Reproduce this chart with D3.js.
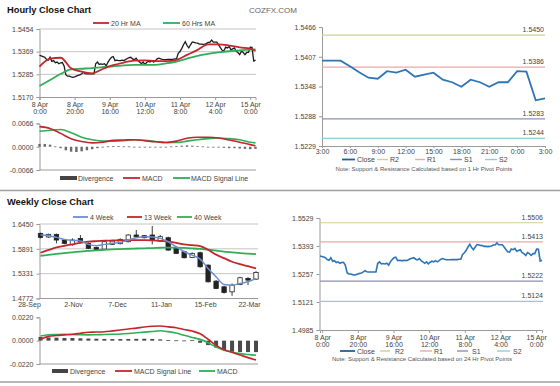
<!DOCTYPE html>
<html><head><meta charset="utf-8">
<script src="https://cdn.jsdelivr.net/npm/d3@7"></script>
<style>
body{margin:0;background:#fff;}
svg text{font-family:"Liberation Sans",Arial,sans-serif;}
</style></head><body>
<svg id="chart" width="560" height="386"></svg>
<script>
// ---------- DATA ----------
// Hourly close, 8 Apr 0:00 -> 15 Apr 3:00 (trading hours)
const hourlyClose = [
1.5344,1.5342,1.5339,1.5336,1.5327,1.5324,1.5336,1.5319,1.5322,1.5313,
1.5316,1.5309,1.5313,1.5314,1.5300,1.5263,1.5257,1.5257,1.5254,1.5252,
1.5254,1.5257,1.5260,1.5262,1.5267,1.5273,1.5268,1.5267,1.5267,1.5267,
1.5267,1.5267,1.5309,1.5316,1.5306,1.5308,1.5306,1.5309,1.5300,1.5316,
1.5327,1.5336,1.5339,1.5322,1.5324,1.5322,1.5322,1.5324,1.5322,1.5326,
1.5331,1.5334,1.5336,1.5329,1.5326,1.5332,1.5322,1.5316,1.5309,1.5316,
1.5306,1.5314,1.5319,1.5316,1.5322,1.5316,1.5322,1.5329,1.5332,1.5329,
1.5327,1.5326,1.5326,1.5327,1.5327,1.5327,1.5327,1.5329,1.5329,1.5352,
1.5360,1.5372,1.5388,1.5401,1.5385,1.5375,1.5388,1.5400,1.5398,1.5396,
1.5395,1.5391,1.5391,1.5390,1.5391,1.5393,1.5398,1.5398,1.5408,
1.5399,1.5399,1.5399,1.5388,1.5376,1.5365,1.5363,1.5378,1.5375,1.5381,1.5367,1.5371,1.5375,
1.5361,1.5356,1.5347,1.5361,1.5356,1.5347,1.5356,1.5356,1.5378,1.5377,1.5320,1.5324];
const hourLabels = ["8 Apr\n0:00","8 Apr\n20:00","9 Apr\n16:00","10 Apr\n12:00","11 Apr\n8:00","12 Apr\n4:00","15 Apr\n0:00"];
const hourLabelIdx = [0,20,40,60,80,100,120];
const hourlyPriceTicks = ["1.5170","1.5285","1.5369","1.5454"];
const hourlyPriceDomain = [1.5170,1.5454];
// moving averages sampled every 6 hours
const maHours = [0,6,12,18,24,30,36,42,48,54,60,66,72,78,84,90,96,102,108,114,120,123];
const ma20 = [1.5297,1.5330,1.5334,1.5290,1.5276,1.5269,1.5287,1.5303,1.5314,1.5322,1.5323,1.5320,1.5320,1.5325,1.5346,1.5367,1.5390,1.5390,1.5385,1.5377,1.5372,1.5363];
const ma60 = [1.5216,1.5241,1.5266,1.5285,1.5288,1.5291,1.5295,1.5298,1.5302,1.5304,1.5304,1.5304,1.5310,1.5318,1.5330,1.5342,1.5350,1.5356,1.5361,1.5365,1.5368,1.5369];
// hourly MACD
const hourMacd = [0.0057,0.0052,0.0038,0.0023,0.0015,0.0011,0.0013,0.0018,0.0019,0.0020,0.0017,0.0014,0.0012,0.0016,0.0024,0.0027,0.0027,0.0025,0.0019,0.0013,0.0006,0.0003];
const hourSignal = [0.0044,0.0047,0.0049,0.0040,0.0027,0.0020,0.0016,0.0016,0.0017,0.0020,0.0018,0.0015,0.0012,0.0012,0.0016,0.0020,0.0023,0.0025,0.0023,0.0020,0.0013,0.0011];
// divergence every 3 hours
const hourDivergence = [0.0008,0.0008,0.0006,0.0001,-0.0004,-0.0010,-0.0014,-0.0015,-0.0013,-0.0010,-0.0007,-0.0004,-0.0002,0.0001,0.0002,0.0002,0.0001,0.0001,0.0000,-0.0001,-0.0002,-0.0002,-0.0001,0.0000,0.0000,0.0001,0.0002,0.0003,0.0004,0.0003,0.0002,0.0001,0.0000,-0.0001,-0.0002,-0.0003,-0.0004,-0.0004,-0.0005,-0.0006,-0.0007,-0.0006];
const hourMacdTicks = [-0.0066,0,0.0066];
// 1 Hr pivot chart
const pivot1hTimes = ["3:00","6:00","9:00","12:00","15:00","18:00","21:00","0:00","3:00"];
const pivot1hTicks = ["1.5229","1.5288","1.5348","1.5407","1.5466"];
const pivot1hDomain = [1.5229,1.5466];
const pivotNames = ["R2","R1","S1","S2"];
const pivotColors = ["#cfcf9a","#eaa9a6","#8f8fb5","#8ccfd6"];
const pivot1h = [1.5450,1.5386,1.5283,1.5244];
// 24 Hr pivot chart
const pivot24Ticks = ["1.4985","1.5121","1.5257","1.5393","1.5529"];
const pivot24Domain = [1.4985,1.5529];
const pivot24 = [1.5506,1.5413,1.5222,1.5124];
// weekly
const weekLabels = ["28-Sep","2-Nov","7-Dec","11-Jan","15-Feb","22-Mar"];
const weekPriceTicks = ["1.4772","1.5331","1.5891","1.6450"];
const weekDomain = [1.4772,1.6450];
const wOpen  = [1.6239,1.6157,1.6217,1.6089,1.5991,1.6126,1.6014,1.5923,1.5886,1.5991,1.6006,1.6051,1.6202,1.6187,1.6202,1.6066,1.6141,1.5901,1.5826,1.5698,1.5803,1.5524,1.5163,1.5035,1.4922,1.5088,1.5224,1.5208];
const wClose = [1.6149,1.6217,1.6089,1.6014,1.6089,1.6051,1.5901,1.5878,1.6051,1.6066,1.6104,1.6202,1.6164,1.6141,1.6089,1.6164,1.5863,1.5788,1.5690,1.5788,1.5487,1.5148,1.4998,1.4907,1.5073,1.5239,1.5186,1.5359];
const wHigh  = [1.6254,1.6232,1.6232,1.6111,1.6126,1.6202,1.6036,1.5938,1.6066,1.6089,1.6126,1.6217,1.6315,1.6202,1.6405,1.6202,1.6164,1.5931,1.5848,1.5811,1.5826,1.5539,1.5186,1.5058,1.5111,1.5261,1.5254,1.5389];
const wLow   = [1.6126,1.6141,1.6014,1.5999,1.5961,1.6036,1.5886,1.5856,1.5871,1.5976,1.5991,1.6036,1.6149,1.6126,1.5991,1.6051,1.5848,1.5773,1.5675,1.5683,1.5465,1.5133,1.4983,1.4884,1.4832,1.5073,1.5073,1.5193];
const w4  = [1.6202,1.6187,1.6149,1.6104,1.6081,1.6066,1.5991,1.5961,1.5991,1.6014,1.6036,1.6089,1.6141,1.6164,1.6157,1.6126,1.6051,1.5938,1.5825,1.5750,1.5660,1.5449,1.5261,1.5088,1.5073,1.5111,1.5148,1.5223];
const w13 = [1.5803,1.5865,1.5923,1.5960,1.5991,1.6025,1.6051,1.6064,1.6074,1.6078,1.6081,1.6085,1.6089,1.6086,1.6081,1.6070,1.6051,1.6025,1.5991,1.5975,1.5953,1.5870,1.5760,1.5680,1.5600,1.5545,1.5500,1.5449];
const w40 = [1.5735,1.5755,1.5775,1.5795,1.5812,1.5830,1.5845,1.5858,1.5868,1.5878,1.5885,1.5893,1.5898,1.5903,1.5908,1.5915,1.5920,1.5918,1.5910,1.5900,1.5888,1.5870,1.5850,1.5830,1.5810,1.5795,1.5783,1.5773];
const wSignal = [0.0013,0.0040,0.0048,0.0054,0.0060,0.0070,0.0079,0.0081,0.0084,0.0092,0.0100,0.0110,0.0118,0.0128,0.0135,0.0138,0.0130,0.0122,0.0105,0.0090,0.0065,0.0013,-0.0045,-0.0085,-0.0110,-0.0135,-0.0160,-0.0182];
const wMacd = [0.0044,0.0055,0.0058,0.0060,0.0058,0.0055,0.0054,0.0056,0.0058,0.0060,0.0063,0.0068,0.0074,0.0080,0.0086,0.0093,0.0085,0.0072,0.0050,0.0030,0.0012,-0.0020,-0.0060,-0.0090,-0.0108,-0.0122,-0.0130,-0.0138];
const wDiv = [0.0035,0.0030,0.0028,0.0025,0.0025,0.0022,0.0020,0.0018,0.0016,0.0015,0.0015,0.0016,0.0017,0.0018,0.0016,0.0012,0.0006,0.0003,0.0002,0.0004,-0.0020,-0.0042,-0.0065,-0.0090,-0.0105,-0.0108,-0.0108,-0.0108];
const wMacdTicks = [-0.0220,0,0.0220];

// ---------- HELPERS ----------
const svg = d3.select("#chart");
const AX = "#9a9a9a", TXT = "#444";
function txt(x,y,s,opt={}){
  return svg.append("text").attr("x",x).attr("y",y).text(s)
    .style("font-size",(opt.size||7)+"px").attr("fill",opt.fill||TXT)
    .attr("font-weight",opt.bold?"bold":"normal").attr("text-anchor",opt.anchor||"start");
}
function styleAxis(g){
  g.selectAll("path.domain").attr("stroke",AX);
  g.selectAll(".tick line").attr("stroke",AX);
  g.selectAll(".tick text").attr("fill",TXT).style("font-size","7px").attr("font-family",null);
  g.attr("font-family",null);
}
function evenVals(dom,n){ return d3.range(n).map(i=>dom[0]+i*(dom[1]-dom[0])/(n-1)); }
function yAxisAt(x,scale,vals,labels){
  const g=svg.append("g").attr("transform",`translate(${x},0)`)
    .call(d3.axisLeft(scale).tickValues(vals).tickFormat((d,i)=>labels[i]).tickSize(3).tickPadding(3));
  styleAxis(g); return g;
}
function multiline(g,lh){
  g.selectAll(".tick text").each(function(){
    const t=d3.select(this), parts=t.text().split("\n"); t.text(null);
    parts.forEach((p,i)=>t.append("tspan").attr("x",0).attr("dy",i===0?"0.71em":lh).text(p));
  });
}
function legLine(x1,x2,y,c,w){ svg.append("line").attr("x1",x1).attr("x2",x2).attr("y1",y).attr("y2",y).attr("stroke",c).attr("stroke-width",w||1.8); }
function legBox(x1,x2,y,c){ svg.append("rect").attr("x",x1).attr("y",y-2).attr("width",x2-x1).attr("height",4).attr("fill",c); }

// separators & titles
[190.5,382].forEach(y=>svg.append("line").attr("x1",0).attr("x2",560).attr("y1",y).attr("y2",y).attr("stroke","#a0a0a0").attr("stroke-width",1.5));
txt(7,13,"Hourly Close Chart",{size:9.3,bold:true,fill:"#111"});
txt(249,13,"COZFX.COM",{size:8,fill:"#666"});
txt(7,205,"Weekly Close Chart",{size:9.3,bold:true,fill:"#111"});

// ---------- PANEL 1: hourly close ----------
const xH = d3.scaleLinear().domain([0,hourlyClose.length-1]).range([39.5,255.5]);
const yH = d3.scaleLinear().domain(hourlyPriceDomain).range([97,29]);
const hVals = evenVals(hourlyPriceDomain,4);
hVals.slice(1).forEach(v=>svg.append("line").attr("x1",39.5).attr("x2",256).attr("y1",yH(v)).attr("y2",yH(v)).attr("stroke","#c4c4c4"));
yAxisAt(39.5,yH,hVals,hourlyPriceTicks);
{
  const g=svg.append("g").attr("transform","translate(0,97)")
    .call(d3.axisBottom(xH).tickValues(hourLabelIdx).tickFormat((d,i)=>hourLabels[i]).tickSize(3).tickPadding(2));
  styleAxis(g); multiline(g,"1.05em");
}
svg.append("path").datum(hourlyClose).attr("fill","none").attr("stroke","#1b1b1b").attr("stroke-width",1.3)
  .attr("d",d3.line().x((d,i)=>xH(i)).y(d=>yH(d)));
const maLine = d3.line().x((d,i)=>xH(maHours[i])).y(d=>yH(d)).curve(d3.curveMonotoneX);
svg.append("path").datum(ma60).attr("fill","none").attr("stroke","#2fae57").attr("stroke-width",1.8).attr("d",maLine);
svg.append("path").datum(ma20).attr("fill","none").attr("stroke","#c4262c").attr("stroke-width",1.8).attr("d",maLine);
legLine(93,109,23,"#c4262c"); txt(111,25.5,"20 Hr MA");
legLine(163,180,23,"#2fae57"); txt(182,25.5,"60 Hrs MA");

// ---------- PANEL 2: hourly MACD ----------
const yM = d3.scaleLinear().domain([-0.0066,0.0066]).range([170,123.5]);
yAxisAt(39.5,yM,hourMacdTicks,hourMacdTicks.map(d=>d.toFixed(4)));
svg.append("line").attr("x1",39.5).attr("x2",256).attr("y1",170).attr("y2",170).attr("stroke",AX);
svg.append("g").selectAll("rect").data(hourDivergence).join("rect")
  .attr("x",(d,i)=>xH(i*3)-1.2).attr("width",2.4)
  .attr("y",d=>Math.min(yM(0),yM(d))).attr("height",d=>Math.max(0.8,Math.abs(yM(d)-yM(0))))
  .attr("fill","#6a6a6a");
const mLine = d3.line().x((d,i)=>xH(maHours[i])).y(d=>yM(d)).curve(d3.curveMonotoneX);
svg.append("path").datum(hourSignal).attr("fill","none").attr("stroke","#2fae57").attr("stroke-width",1.6).attr("d",mLine);
svg.append("path").datum(hourMacd).attr("fill","none").attr("stroke","#c4262c").attr("stroke-width",1.6).attr("d",mLine);
legBox(60,77,178,"#444"); txt(78,180.5,"Divergence");
legLine(123,140,178,"#c4262c"); txt(142,180.5,"MACD");
legLine(173,190,178,"#2fae57"); txt(191,180.5,"MACD Signal Line");

// ---------- PANEL 3: 1 Hr pivot ----------
const close24 = hourlyClose.slice(hourlyClose.length-25);
const xR = d3.scaleLinear().domain([0,24]).range([322,545]);
const yR = d3.scaleLinear().domain(pivot1hDomain).range([146,27]);
yAxisAt(322,yR,evenVals(pivot1hDomain,5),pivot1hTicks);
{
  const g=svg.append("g").attr("transform","translate(0,146)")
    .call(d3.axisBottom(xR).tickValues(d3.range(0,25,3)).tickFormat((d,i)=>pivot1hTimes[i]).tickSize(2).tickPadding(1.5));
  styleAxis(g);
}
pivot1h.forEach((v,i)=>{
  svg.append("line").attr("x1",322).attr("x2",545).attr("y1",yR(v)).attr("y2",yR(v)).attr("stroke",pivotColors[i]).attr("stroke-width",1.2);
  txt(544,yR(v)-3,v.toFixed(4),{anchor:"end"});
});
svg.append("path").datum(close24).attr("fill","none").attr("stroke","#2e75b6").attr("stroke-width",1.8)
  .attr("d",d3.line().x((d,i)=>xR(i)).y(d=>yR(d)));
legLine(342,355,159.5,"#1f5f9a"); txt(357,162,"Close");
[[377,388,390],[415,425,427],[450,462,464],[485,497,499]].forEach((p,i)=>{legLine(p[0],p[1],159.5,pivotColors[i],1.4); txt(p[2],162,pivotNames[i]);});
txt(424,171,"Note: Support & Resistance Calculated based on 1 Hr Pivot Points",{size:6,anchor:"middle",fill:"#555"});

// ---------- PANEL 4: weekly candles ----------
const xW = d3.scaleLinear().domain([0,wClose.length-1]).range([40.5,256]);
const yW = d3.scaleLinear().domain(weekDomain).range([298.5,224]);
const wVals = evenVals(weekDomain,4);
wVals.slice(1).forEach(v=>svg.append("line").attr("x1",39.5).attr("x2",258).attr("y1",yW(v)).attr("y2",yW(v)).attr("stroke","#c4c4c4"));
yAxisAt(39.5,yW,wVals,weekPriceTicks);
svg.append("line").attr("x1",39.5).attr("x2",258).attr("y1",298.5).attr("y2",298.5).attr("stroke",AX);
{
  const xl = d3.scalePoint().domain(weekLabels).range([29,249]);
  const g=svg.append("g").attr("transform","translate(0,298.5)").call(d3.axisBottom(xl).tickSize(0).tickPadding(4));
  styleAxis(g); g.select("path.domain").remove();
}
const cg = svg.append("g");
wClose.forEach((c,i)=>{
  const x=xW(i), o=wOpen[i];
  cg.append("line").attr("x1",x).attr("x2",x).attr("y1",yW(wHigh[i])).attr("y2",yW(wLow[i])).attr("stroke","#222").attr("stroke-width",0.9);
  cg.append("rect").attr("x",x-2.2).attr("width",4.4)
    .attr("y",yW(Math.max(o,c))).attr("height",Math.max(1,Math.abs(yW(o)-yW(c))))
    .attr("fill",c>=o?"#fff":"#222").attr("stroke","#222").attr("stroke-width",0.8);
});
const wLine = d3.line().x((d,i)=>xW(i)).y(d=>yW(d)).curve(d3.curveMonotoneX);
svg.append("path").datum(w40).attr("fill","none").attr("stroke","#2fae57").attr("stroke-width",1.8).attr("d",wLine);
svg.append("path").datum(w13).attr("fill","none").attr("stroke","#c4262c").attr("stroke-width",1.8).attr("d",wLine);
svg.append("path").datum(w4).attr("fill","none").attr("stroke","#6b8fd0").attr("stroke-width",1.5).attr("d",wLine);
legLine(73,88,217,"#6b8fd0"); txt(90,219.5,"4 Week");
legLine(127,142,217,"#c4262c"); txt(144,219.5,"13 Week");
legLine(177,192,217,"#2fae57"); txt(194,219.5,"40 Week");

// ---------- PANEL 5: weekly MACD ----------
const yWM = d3.scaleLinear().domain([-0.022,0.022]).range([364,317.3]);
yAxisAt(39.5,yWM,wMacdTicks,wMacdTicks.map(d=>d.toFixed(4)));
svg.append("line").attr("x1",39.5).attr("x2",258).attr("y1",364).attr("y2",364).attr("stroke",AX);
svg.append("g").selectAll("rect").data(wDiv).join("rect")
  .attr("x",(d,i)=>xW(i)-2).attr("width",4)
  .attr("y",d=>Math.min(yWM(0),yWM(d))).attr("height",d=>Math.max(0.8,Math.abs(yWM(d)-yWM(0))))
  .attr("fill","#4a4a4a");
const wmLine = d3.line().x((d,i)=>xW(i)).y(d=>yWM(d)).curve(d3.curveMonotoneX);
svg.append("path").datum(wMacd).attr("fill","none").attr("stroke","#2fae57").attr("stroke-width",1.6).attr("d",wmLine);
svg.append("path").datum(wSignal).attr("fill","none").attr("stroke","#c4262c").attr("stroke-width",1.6).attr("d",wmLine);
legBox(52,68,371,"#444"); txt(70,373.5,"Divergence");
legLine(115,132,371,"#c4262c"); txt(134,373.5,"MACD Signal Line");
legLine(199,215,371,"#2fae57"); txt(217,373.5,"MACD");

// ---------- PANEL 6: 24 Hr pivot ----------
const xB = d3.scaleLinear().domain([0,hourlyClose.length-1]).range([320,542]);
const yB = d3.scaleLinear().domain(pivot24Domain).range([330,218]);
yAxisAt(319.5,yB,evenVals(pivot24Domain,5),pivot24Ticks);
{
  const xl = d3.scaleLinear().domain([0,123]).range([322.7,542]);
  const g=svg.append("g").attr("transform","translate(0,330)")
    .call(d3.axisBottom(xB).tickValues(hourLabelIdx).tickFormat((d,i)=>hourLabels[i]).tickSize(3).tickPadding(2));
  styleAxis(g); multiline(g,"0.95em");
  g.selectAll(".tick").attr("transform",d=>`translate(${xl(d)},0)`);
}
pivot24.forEach((v,i)=>{
  svg.append("line").attr("x1",320).attr("x2",543).attr("y1",yB(v)).attr("y2",yB(v)).attr("stroke",pivotColors[i]).attr("stroke-width",1.2);
  txt(543,yB(v)-3,v.toFixed(4),{anchor:"end"});
});
svg.append("path").datum(hourlyClose).attr("fill","none").attr("stroke","#2e75b6").attr("stroke-width",1.6)
  .attr("d",d3.line().x((d,i)=>xB(i)).y(d=>yB(d)));
legLine(340,355,351,"#1f5f9a"); txt(357,353.5,"Close");
[[380,390,395],[420,432,434],[457,468,472],[497,510,513]].forEach((p,i)=>{legLine(p[0],p[1],351,pivotColors[i],1.4); txt(p[2],353.5,pivotNames[i]);});
txt(422,361,"Note: Support & Resistance Calculated based on 24 Hr Pivot Points",{size:6,anchor:"middle",fill:"#555"});
</script>
</body></html>
